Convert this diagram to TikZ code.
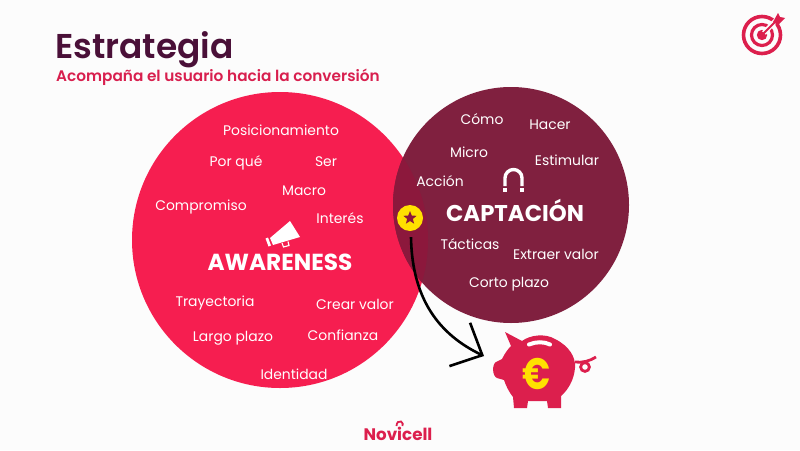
\documentclass[tikz,border=0pt]{standalone}
\usepackage{fontspec}
\setmainfont{Poppins}
\newfontfamily\semi{Poppins SemiBold}
\usetikzlibrary{shapes.geometric,arrows.meta}
\definecolor{crim}{HTML}{F61E50}
\definecolor{wine}{HTML}{80203F}
\definecolor{over}{HTML}{8C183C}
\definecolor{titlec}{HTML}{4A1038}
\definecolor{subc}{HTML}{D81F4E}
\definecolor{iconc}{HTML}{DC1F4D}
\definecolor{goldc}{HTML}{FFE100}
\tikzset{
  lab/.style={text=white,font=\fontsize{13.9}{16}\selectfont,inner sep=0pt},
  bigl/.style={text=white,font=\fontsize{22.8}{26}\selectfont\bfseries,inner sep=0pt},
}
\begin{document}
\begin{tikzpicture}[x=1pt,y=-1pt]
\useasboundingbox (0,0) rectangle (800,450);
\fill[white!99!black] (0,0) rectangle (800,450);
% circles
\fill[crim] (280,240) circle[radius=148];
\fill[wine] (511,205) circle[radius=118];
\begin{scope}
\clip (280,240) circle[radius=148];
\fill[over] (511,205) circle[radius=118];
\end{scope}
% title
\node[anchor=base west,inner sep=0pt,text=titlec,font=\fontsize{34.4}{38}\selectfont\semi] (title) at (55,58) {Estrategia};
\node[anchor=base west,inner sep=0pt,text=subc,font=\fontsize{15.3}{18}\selectfont\semi] (sub) at (56,81) {Acompaña el usuario hacia la conversión};
% labels left
\node[lab] (n1) at (281,130) {Posicionamiento};
\node[lab] (n2) at (236,163) {Por qué};
\node[lab] (n3) at (326,162) {Ser};
\node[lab] (n4) at (304,191) {Macro};
\node[lab] (n5) at (201,207) {Compromiso};
\node[lab] (n6) at (340,218) {Interés};
\node[bigl,font=\fontsize{23.2}{26}\selectfont\bfseries] (aw) at (280,262) {AWARENESS};
\node[lab] (n7) at (215,303) {Trayectoria};
\node[lab] (n8) at (355,304) {Crear valor};
\node[lab] (n9) at (233,338) {Largo plazo};
\node[lab] (n10) at (343,335) {Confianza};
\node[lab] (n11) at (294,374) {Identidad};
% labels right
\node[lab] (m1) at (482,119) {Cómo};
\node[lab] (m2) at (550,125) {Hacer};
\node[lab] (m3) at (469,152) {Micro};
\node[lab] (m4) at (567,160) {Estimular};
\node[lab] (m5) at (440,181) {Acción};
\node[bigl] (cap) at (515,210) {CAPTACIÓN};
\node[lab] (m6) at (470,244) {Tácticas};
\node[lab] (m7) at (556,254) {Extraer valor};
\node[lab] (m8) at (509,284) {Corto plazo};
% megaphone
\fill[white] (270,238) -- (290,221) -- (300,237) -- (273,245) -- cycle;
\fill[white] (265.5,238.5) -- (268,237.5) -- (271,245.5) -- (268.5,246.5) -- cycle;
\draw[white,line width=1.1] (282,243) -- (283.5,247) -- (289,245.5) -- (288,241.5);
% magnet
\draw[white,line width=3.4] (505,186) -- (505,178) arc[start angle=180,end angle=360,radius=8.5] -- (522,186);
\fill[white] (503.3,188) rectangle (506.7,192);
\fill[white] (520.3,188) rectangle (523.7,192);
% star badge
\node[circle,fill=goldc,minimum size=26,inner sep=0pt] (badge) at (410,218) {};
\node[star,star points=5,star point ratio=2.3,fill=over,minimum size=14,inner sep=0pt] (st) at (410,218) {};
% piggy
\fill[iconc] (505,332) -- (522,341) .. controls (530,335) and (545,333) .. (555,339)
  .. controls (569,346) and (576,357) .. (575,368)
  .. controls (574,380) and (568,390) .. (561,396) -- (561,408) -- (548,408) -- (547,401)
  -- (528,401) -- (527,408) -- (514,408) -- (513,397)
  .. controls (509,392) and (506,386) .. (504,380) -- (497,378)
  .. controls (492,376) and (492,364) .. (496,362) -- (502,359)
  .. controls (505,353) and (508,349) .. (511,346) -- cycle;
\draw[white,line width=4,line cap=round] (529,344.5) .. controls (536,341.5) and (544,341.5) .. (550,344.5);
\draw[iconc,line width=2.8] (575,362) .. controls (582,363) and (590,361) .. (596,357);
\draw[iconc,line width=2.8] (585,367) circle[radius=4.4];
\node[text=goldc,inner sep=0pt,font=\fontsize{44}{46}\selectfont\bfseries] (euro) at (537,374) {\scalebox{0.8}[1]{€}};
% arrow
\coordinate (arrowend) at (484,356);
\draw[black,line width=2.6,-{Straight Barb[length=25,width=48]}] (badge.south) ++(1,6) .. controls (412,300) and (440,335) .. (arrowend);
% target icon
\draw[iconc,line width=3.6] (762,35) circle[radius=18.5];
\draw[iconc,line width=3.2] (762,35) circle[radius=10.5];
\fill[iconc] (762,35) circle[radius=5.2];
\draw[white!99!black,line width=5] (764,33) -- (780,16);
\draw[iconc,line width=1.8] (763,34) -- (777,20);
\fill[iconc] (773,22) -- (778,13) -- (780,17) -- (785,18) -- (778,25) -- cycle;
% logo
\node[text=iconc,inner sep=0pt,font=\fontsize{16.7}{18}\selectfont\bfseries] (logo) at (398,434) {Novicell};
\draw[iconc,line width=1.8] (396.5,426) .. controls (396.5,422.5) and (399,420.5) .. (401,421.5) .. controls (403,422.5) and (403,424.5) .. (402.5,426);
\end{tikzpicture}
\end{document}
